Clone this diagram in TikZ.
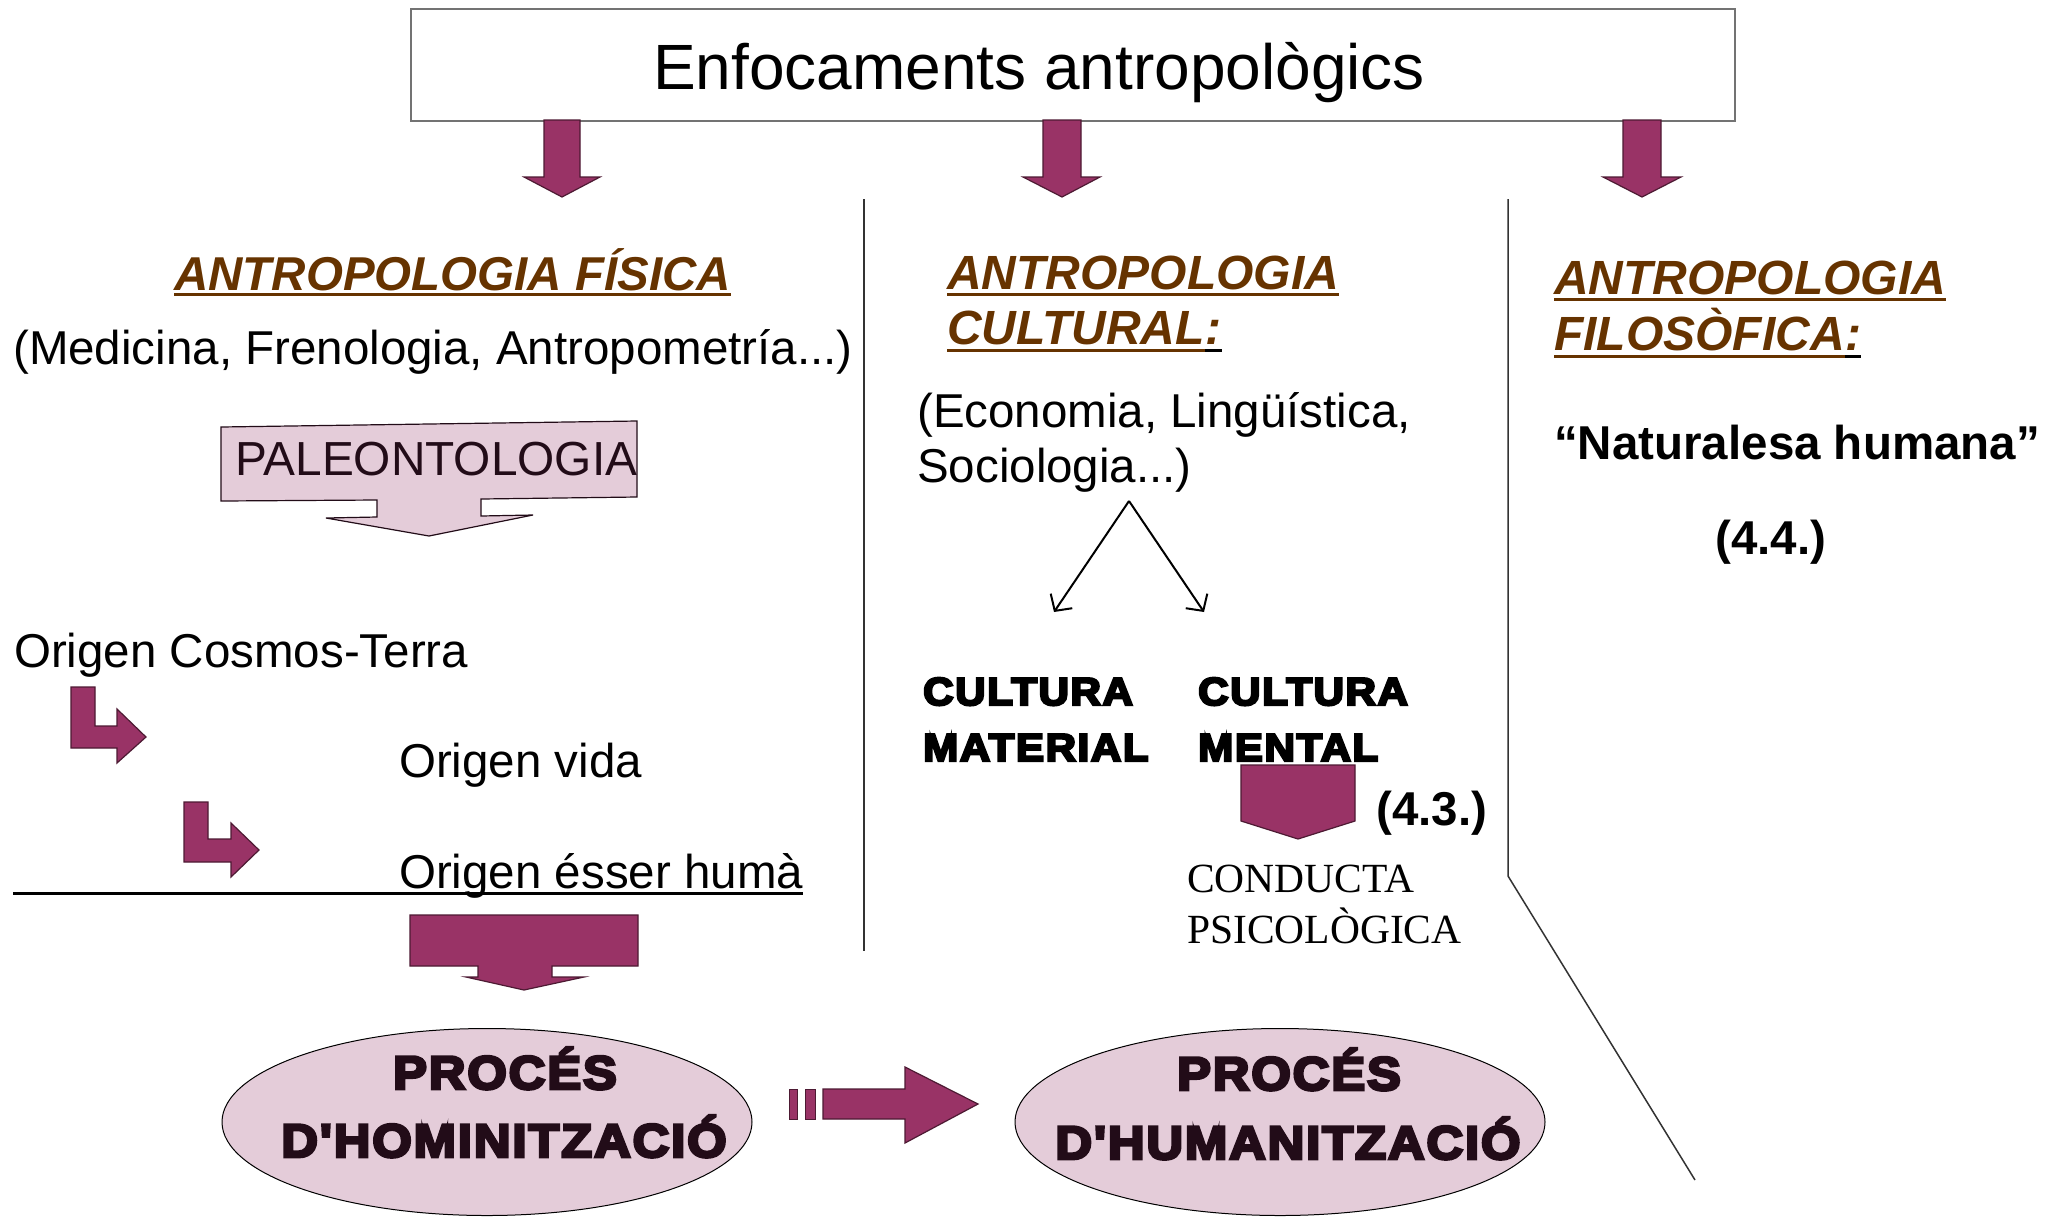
\documentclass[tikz,border=0pt]{standalone}
\usepackage{fontspec}
\setmainfont{Liberation Sans}
\newfontfamily\serifx{Liberation Serif}
\newfontfamily\blackx{Liberation Sans}[BoldFeatures={FakeBold=6,FakeStretch=1.08,LetterSpace=4}]
\usetikzlibrary{arrows.meta,calc,shapes.geometric}
\definecolor{plum}{HTML}{993366}
\definecolor{plumline}{HTML}{4D1A33}
\definecolor{pinkfill}{HTML}{E4CCD9}
\definecolor{brownx}{HTML}{663300}
\definecolor{darktext}{HTML}{220C18}
\begin{document}
\begin{tikzpicture}[x=1pt,y=-1pt,
  blockarrow/.style={fill=plum,draw=plumline,line width=1.2pt,line join=miter},
  pinkarrow/.style={fill=pinkfill,draw=darktext,line width=1.2pt,line join=miter},
  divider/.style={draw=black!80,line width=1.5pt},
  bodytxt/.style={inner sep=0pt,anchor=base west,font=\fontsize{47.5}{57}\selectfont},
  boldtxt/.style={inner sep=0pt,anchor=base west,font=\fontsize{47.5}{57}\selectfont\bfseries},
  headbig/.style={inner sep=0pt,anchor=base west,text=brownx,font=\fontsize{48}{57}\selectfont\bfseries\itshape},
  headsmall/.style={inner sep=0pt,anchor=base west,text=brownx,font=\fontsize{47.5}{57}\selectfont\bfseries\itshape},
  heavytxt/.style={inner sep=0pt,anchor=base west,font=\fontsize{39}{45}\selectfont\blackx\bfseries},
  proctxt/.style={inner sep=0pt,anchor=base,text=darktext,font=\fontsize{47}{55}\selectfont\blackx\bfseries},
  seriftxt/.style={inner sep=0pt,anchor=base west,font=\fontsize{41.5}{48}\selectfont\serifx},
  ulbrown/.style={draw=brownx,line width=3pt},
  ulblack/.style={draw=black,line width=3pt},
  procell/.style={ellipse,draw=black,line width=1pt,fill=pinkfill,inner sep=0pt,minimum width=530pt,minimum height=187pt},
  thinarrow/.style={draw=black,line width=2pt,-{Straight Barb[length=12pt,width=26pt,line width=2pt]}}
]
\useasboundingbox (0,0) rectangle (2049,1216);
\fill[white] (0,0) rectangle (2049,1216);

% title
\node[draw=black!55,line width=1.5pt,inner sep=0pt,minimum width=1324pt,minimum height=112pt,anchor=north west] (title) at (410,8) {};
\node[inner sep=0pt,anchor=base,font=\fontsize{64}{70}\selectfont] (titletext) at (1039,89) {Enfocaments antropològics};

% three down arrows
\draw[blockarrow] (544,120) -- (580,120) -- (580,177) -- (600,177) -- (562,197) -- (524,177) -- (544,177) -- cycle;
\draw[blockarrow] (1043,120) -- (1081,120) -- (1081,177) -- (1100,177) -- (1062,197) -- (1023,177) -- (1043,177) -- cycle;
\draw[blockarrow] (1623,120) -- (1661,120) -- (1661,177) -- (1681,177) -- (1642,197) -- (1603,177) -- (1623,177) -- cycle;

% dividers
\draw[divider] (864,199) -- (864,951);
\draw[divider] (1508,199) -- (1508,876) -- (1695,1180);

% left column
\node[headsmall] (fis) at (174,290) {ANTROPOLOGIA FÍSICA};
\draw[ulbrown] ($(fis.base west)+(0,4)$) -- ($(fis.base east)+(0,4)$);
\node[bodytxt] (med) at (13,364) {(Medicina, Frenologia, Antropometría...)};

\draw[pinkarrow] (221,427) -- (637,421) -- (637,497) -- (481,499) -- (481,516) -- (533,515) -- (429,536) -- (326,518) -- (377,517) -- (377,500) -- (221,501) -- cycle;
\node[inner sep=0pt,anchor=base west,text=darktext,font=\fontsize{47.8}{52}\selectfont] (paleo) at (235,475) {PALEONTOLOGIA};

\node[bodytxt] (cosmos) at (14,667) {Origen Cosmos-Terra};
\node[bodytxt] (vida) at (399,777) {Origen vida};
\node[bodytxt] (huma) at (399,888) {Origen ésser humà};
\draw[ulblack] (13,893) -- ($(huma.base east)+(0,5)$);

\draw[blockarrow] (71,687) -- (95,687) -- (95,726) -- (117,726) -- (117,709) -- (146,737) -- (117,763) -- (117,748) -- (71,748) -- cycle;
\draw[blockarrow] (184,802) -- (208,802) -- (208,839) -- (231,839) -- (231,823) -- (259,850) -- (231,877) -- (231,862) -- (184,862) -- cycle;

\draw[blockarrow] (410,915) -- (638,915) -- (638,966) -- (552,966) -- (552,977) -- (584,977) -- (524,990) -- (466,977) -- (478,977) -- (478,966) -- (410,966) -- cycle;

% ellipses
\node[procell] (homin) at (487,1122) {};
\node[proctxt] (homin1) at (505,1089) {PROCÉS};
\node[proctxt] (homin2) at (504,1157) {D'HOMINITZACIÓ};
\node[procell] (human) at (1280,1122) {};
\node[proctxt] (human1) at (1289,1090) {PROCÉS};
\node[proctxt] (human2) at (1288,1159) {D'HUMANITZACIÓ};

\fill[plum,draw=plumline,line width=1pt] (789,1089) rectangle (797,1119);
\fill[plum,draw=plumline,line width=1pt] (805,1089) rectangle (815,1119);
\draw[blockarrow] (823,1089) -- (905,1089) -- (905,1067) -- (978,1104) -- (905,1143) -- (905,1119) -- (823,1119) -- cycle;

% middle column
\node[headbig] (cult1) at (947,289) {ANTROPOLOGIA};
\draw[ulbrown] ($(cult1.base west)+(0,5)$) -- ($(cult1.base east)+(0,5)$);
\node[headbig] (cult2) at (947,344) {CULTURAL};
\node[headbig] (cultc) at (cult2.base east) {:};
\draw[ulbrown] ($(cult2.base west)+(0,6)$) -- ($(cult2.base east)+(0,6)$);
\draw[ulblack] ($(cultc.base west)+(0,6)$) -- ($(cultc.base east)+(0,6)$);

\node[bodytxt] (eco1) at (917,427) {(Economia, Lingüística,};
\node[bodytxt] (eco2) at (917,482) {Sociologia...)};

\coordinate (apex) at (1129,501);
\coordinate (tipl) at (1054,612);
\coordinate (tipr) at (1204,612);
\draw[thinarrow] (apex) -- (tipl);
\draw[thinarrow] (apex) -- (tipr);

\node[heavytxt] (mat1) at (923,705) {CULTURA};
\node[heavytxt] (mat2) at (923,761) {MATERIAL};
\node[heavytxt] (men1) at (1198,705) {CULTURA};
\node[heavytxt] (men2) at (1198,761) {MENTAL};

\draw[blockarrow] (1241,765) -- (1355,765) -- (1355,821) -- (1298,839) -- (1241,821) -- cycle;
\node[boldtxt] (n43) at (1376,825) {(4.3.)};
\node[seriftxt] (cond1) at (1187,892) {CONDUCTA};
\node[seriftxt] (cond2) at (1187,943) {PSICOLÒGICA};

% right column
\node[headbig] (fil1) at (1554,294) {ANTROPOLOGIA};
\draw[ulbrown] ($(fil1.base west)+(0,5)$) -- ($(fil1.base east)+(0,5)$);
\node[headbig] (fil2) at (1554,350) {FILOSÒFICA};
\node[headbig] (filc) at (fil2.base east) {:};
\draw[ulbrown] ($(fil2.base west)+(0,6)$) -- ($(fil2.base east)+(0,6)$);
\draw[ulblack] ($(filc.base west)+(0,6)$) -- ($(filc.base east)+(0,6)$);

\node[boldtxt] (nat) at (1554,459) {“Naturalesa humana”};
\node[boldtxt] (n44) at (1715,554) {(4.4.)};
\end{tikzpicture}
\end{document}
